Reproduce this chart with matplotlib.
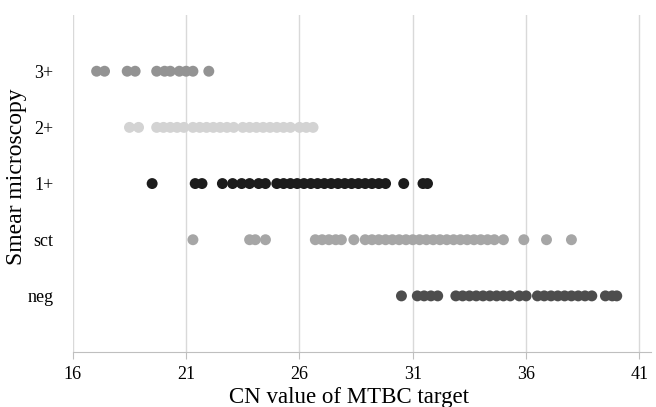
import matplotlib.pyplot as plt

# CN values per smear grade
cn_3plus = [17.05, 17.4, 18.4, 18.75, 19.7, 20.05, 20.3, 20.7, 21.0, 21.3, 22.0]
cn_2plus = [18.5, 18.9, 19.7, 20.0, 20.3, 20.6, 20.9, 21.3, 21.6, 21.9, 22.2, 22.5,
            22.8, 23.1, 23.5, 23.8, 24.1, 24.4, 24.7, 25.0, 25.3, 25.6, 26.0, 26.3, 26.6]
cn_1plus = [19.5, 21.4, 21.7, 22.6, 23.05, 23.45, 23.8, 24.2, 24.5, 25.0, 25.3, 25.6,
            25.9, 26.2, 26.5, 26.8, 27.1, 27.4, 27.7, 28.0, 28.3, 28.6, 28.9, 29.2,
            29.5, 29.8, 30.6, 31.45, 31.65]
cn_sct = [21.3, 23.8, 24.05, 24.5, 26.7, 27.0, 27.3, 27.6, 27.85, 28.4, 28.9, 29.2,
          29.5, 29.8, 30.1, 30.4, 30.7, 31.0, 31.3, 31.6, 31.9, 32.2, 32.5, 32.8,
          33.1, 33.4, 33.7, 34.0, 34.3, 34.6, 35.0, 35.9, 36.9, 38.0]
cn_neg = [30.5, 31.2, 31.5, 31.8, 32.1, 32.9, 33.2, 33.5, 33.8, 34.1, 34.4, 34.7,
          35.0, 35.3, 35.7, 36.0, 36.5, 36.8, 37.1, 37.4, 37.7, 38.0, 38.3, 38.6,
          38.9, 39.5, 39.8, 40.0]

grades = ['neg', 'sct', '1+', '2+', '3+']
series = [cn_neg, cn_sct, cn_1plus, cn_2plus, cn_3plus]
colors = ['#4d4d4d', '#a6a6a6', '#1c1c1c', '#d3d3d3', '#939393']
x_ticks = [16, 21, 26, 31, 36, 41]

plt.rcParams['font.family'] = ['Liberation Serif', 'DejaVu Serif']

fig = plt.figure(figsize=(6.56, 4.07), dpi=100)
ax = fig.add_axes([0.111, 0.135, 0.881, 0.828])

for i, (vals, col) in enumerate(zip(series, colors)):
    ax.scatter(vals, [i + 1] * len(vals), s=62, color=col, edgecolors='none', zorder=3)

ax.set_xlim(16, 41.5)
ax.set_ylim(0, 6)
ax.set_xticks(x_ticks)
ax.set_yticks(range(1, len(grades) + 1))
ax.set_yticklabels(grades)
ax.grid(axis='x', color='#d9d9d9', linewidth=1)
ax.set_axisbelow(True)

for side in ['top', 'right', 'left']:
    ax.spines[side].set_visible(False)
ax.spines['bottom'].set_color('#bfbfbf')
ax.tick_params(axis='x', length=5, color='#bfbfbf', labelsize=13, pad=5)
ax.tick_params(axis='y', length=0, labelsize=13, pad=14)

ax.set_xlabel('CN value of MTBC target', fontsize=16.5)
ax.set_ylabel('Smear microscopy', fontsize=17)
ax.xaxis.set_label_coords(0.478, -0.103)
ax.yaxis.set_label_coords(-0.08, 0.52)

fig.savefig('out.png', dpi=100)
